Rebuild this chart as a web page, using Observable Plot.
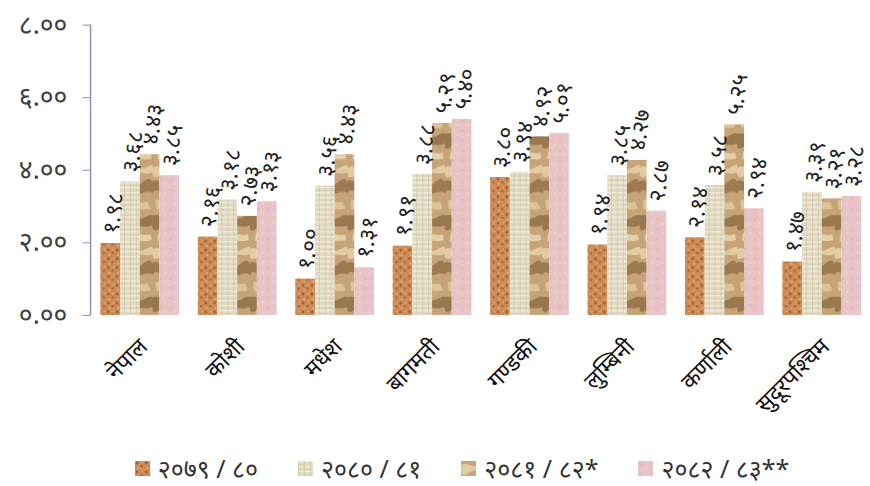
<!DOCTYPE html>
<html><head><meta charset="utf-8">
<script src="https://cdn.jsdelivr.net/npm/d3@7"></script>
<script src="https://cdn.jsdelivr.net/npm/@observablehq/plot@0.6"></script>
<style>
html,body{margin:0;padding:0;background:#fff;overflow:hidden;width:870px;height:486px;font-family:"Noto Sans",sans-serif}
#chart{width:870px;height:450px;overflow:hidden}
#chart svg{display:block}
#legend{display:flex;justify-content:center;align-items:center;gap:40px;padding-left:54px;height:36px;font-size:25px;color:#333;box-sizing:border-box;width:870px}
#legend .it{display:flex;align-items:center;gap:8px;white-space:pre}
#legend svg{display:block}
</style></head><body>
<div id="chart"></div>
<div id="legend"></div>
<script>
const provinces = ["नेपाल","कोशी","मधेश","बागमती","गण्डकी","लुम्बिनी","कर्णाली","सुदूरपश्चिम"];
const series = ["२०७९/८०","२०८०/८१","२०८१/८२*","२०८२/८३**"];
const v2079 = [1.98, 2.16, 1.00, 1.91, 3.80, 1.94, 2.14, 1.47];
const v2080 = [3.68, 3.18, 3.56, 3.88, 3.94, 3.85, 3.58, 3.39];
const v2081 = [4.43, 2.73, 4.43, 5.29, 4.92, 4.27, 5.25, 3.21];
const v2082 = [3.85, 3.13, 1.31, 5.40, 5.01, 2.87, 2.94, 3.28];
const yTicks = [0, 2, 4, 6, 8];

const seriesValues = [v2079, v2080, v2081, v2082];
const data = [];
provinces.forEach((p, i) => series.forEach((s, j) => data.push({province: p, series: s, value: seriesValues[j][i]})));

const dev = s => String(s).replace(/\d/g, d => "०१२३४५६७८९"[+d]);
const fills = ["url(#p0)", "url(#p1)", "url(#p2)", "url(#p3)"];

const plot = Plot.plot({
  width: 884,
  height: 450,
  marginLeft: 92,
  marginRight: 0,
  marginTop: 25,
  marginBottom: 130,
  style: {fontFamily: "'Noto Sans', sans-serif", background: "transparent"},
  fx: {domain: provinces, range: [92, 884], padding: 0, axis: null},
  x: {domain: series, paddingInner: 0, paddingOuter: 0.475, axis: null},
  y: {domain: [0, 8], axis: null},
  color: {type: "ordinal", domain: series, range: fills},
  marks: [
    Plot.barY(data, {fx: "province", x: "series", y: "value", fill: "series", inset: 0}),
    Plot.text(data, {fx: "province", x: "series", y: "value", text: d => dev(d.value.toFixed(2)),
      rotate: -82, textAnchor: "start", dy: -10, fontSize: 23, fill: "#222"}),
    Plot.axisY({ticks: yTicks, tickFormat: d => dev(d.toFixed(2)), tickSize: 8, tickPadding: 16,
      fontSize: 27, stroke: "#8597b0", fill: "#404040", label: null}),
    Plot.axisFx({anchor: "bottom", tickRotate: -45, textAnchor: "end", tickSize: 0, tickPadding: 28, dx: 4, fontSize: 23, label: null, fill: "#111"})
  ]
});

const defs = `<defs>
<pattern id="p0" width="9" height="9" patternUnits="userSpaceOnUse">
<rect width="9" height="9" fill="#cc8b57"/>
<circle cx="2" cy="2" r="1.4" fill="#a2602d"/>
<circle cx="6.5" cy="5.2" r="1.2" fill="#ad6733"/>
<circle cx="3" cy="7" r="1" fill="#e6b080"/>
<circle cx="7.2" cy="1.4" r="0.9" fill="#e2aa79"/>
</pattern>
<pattern id="p1" width="6" height="5" patternUnits="userSpaceOnUse">
<rect width="6" height="5" fill="#e0d7bf"/>
<rect width="6" height="1.3" fill="#f3eee0"/>
<rect width="1" height="5" fill="#cbbf9f" opacity="0.6"/>
</pattern>
<pattern id="p2" width="31" height="83" patternUnits="userSpaceOnUse">
<rect width="31" height="83" fill="#c6a478"/>
<path d="M0 4 C8 0 14 9 22 5 S31 2 31 2 L31 9 C24 13 16 6 8 12 S0 10 0 10Z" fill="#e2cba2"/>
<path d="M0 18 C6 14 12 26 20 20 S28 15 31 19 L31 30 C24 26 18 34 10 30 S2 27 0 31Z" fill="#8c6841" opacity="0.7"/>
<path d="M3 38 C10 34 16 42 26 39 L29 46 C20 49 12 44 4 47Z" fill="#dcc398"/>
<path d="M0 53 C9 50 14 60 23 55 S31 54 31 54 L31 63 C22 67 15 60 7 66 S0 64 0 64Z" fill="#7b5a35" opacity="0.6"/>
<path d="M6 71 C13 68 20 75 29 72 L30 78 C20 81 13 76 5 79Z" fill="#e4cfa8"/>
<path d="M14 30 C18 34 15 42 19 46 L16 47 C12 42 15 35 11 31Z" fill="#9c7850" opacity="0.6"/>
</pattern>
<pattern id="p3" width="10" height="10" patternUnits="userSpaceOnUse">
<rect width="10" height="10" fill="#e9c4c6"/>
<circle cx="3" cy="3" r="1.5" fill="#e1b6ba" opacity="0.7"/>
<circle cx="8" cy="7" r="1.3" fill="#f0d2d3" opacity="0.8"/>
</pattern>
</defs>`;
plot.insertAdjacentHTML("afterbegin", defs);

// y-axis line
const ys = plot.scale("y");
d3.select(plot).append("line")
  .attr("x1", 92).attr("x2", 92)
  .attr("y1", ys.apply(yTicks[yTicks.length - 1])).attr("y2", ys.apply(yTicks[0]))
  .attr("stroke", "#8597b0").attr("stroke-width", 1.5);

document.getElementById("chart").appendChild(plot);

const legend = d3.select("#legend");
series.forEach((s, j) => {
  const it = legend.append("div").attr("class", "it");
  it.append("svg").attr("width", 15).attr("height", 15)
    .append("rect").attr("width", 15).attr("height", 15).attr("fill", fills[j]);
  it.append("span").text(s.replace("/", " / "));
});
</script>
</body></html>
